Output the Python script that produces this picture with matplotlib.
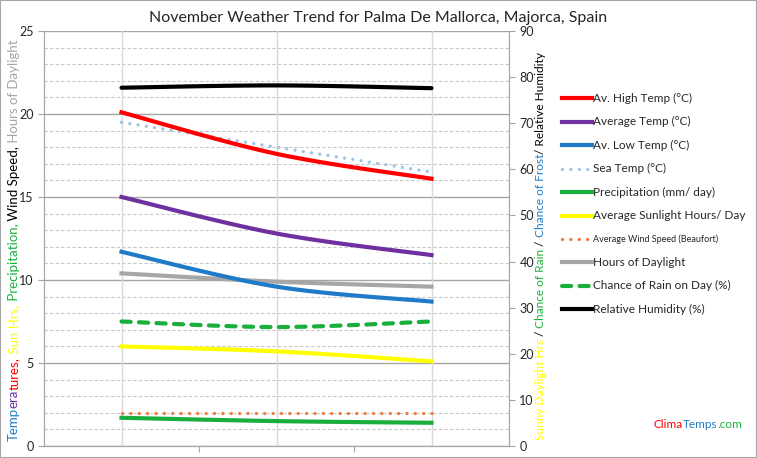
import matplotlib
matplotlib.use('Agg')
import matplotlib.pyplot as plt
from matplotlib.lines import Line2D
from matplotlib.transforms import IdentityTransform
import numpy as np

plt.rcParams['font.family'] = ['Lato', 'DejaVu Sans']

# ---- data ----
periods = ['Early', 'Mid', 'Late']
high_temp = [20.1, 17.6, 16.1]
avg_temp = [15.0, 12.8, 11.5]
low_temp = [11.7, 9.6, 8.7]
sea_temp = [19.5, 18.0, 16.5]
precip = [1.7, 1.5, 1.4]
sun_hours = [6.0, 5.7, 5.1]
wind_speed = [2.0, 2.0, 2.0]
daylight = [10.4, 9.9, 9.6]
rain_chance = [27.0, 25.8, 27.0]      # right axis
humidity = [77.7, 78.2, 77.6]         # right axis

TITLE = 'November Weather Trend for Palma De Mallorca, Majorca, Spain'

W, H = 757, 458
DOTS = (0, (0.01, 2.5))
DASH = (0, (2.2, 2.0))


def smooth(ys, n=60):
    # excel-style smoothed line (cardinal bezier through the points)
    xs = np.arange(len(ys), dtype=float)
    pts = np.column_stack([xs, np.asarray(ys, dtype=float)])
    ext = np.vstack([pts[0], pts, pts[-1]])
    out = []
    for i in range(len(pts) - 1):
        p0, p1, p2, p3 = ext[i], ext[i + 1], ext[i + 2], ext[i + 3]
        c1 = p1 + (p2 - p0) / 6.0
        c2 = p2 - (p3 - p1) / 6.0
        t = np.linspace(0, 1, n)[:, None]
        seg = ((1 - t) ** 3) * p1 + 3 * ((1 - t) ** 2) * t * c1 + 3 * (1 - t) * t ** 2 * c2 + t ** 3 * p2
        out.append(seg if i == 0 else seg[1:])
    out = np.vstack(out)
    return out[:, 0], out[:, 1]


fig = plt.figure(figsize=(W / 100, H / 100), dpi=100)
ax = fig.add_axes([44 / W, 1 - 446 / H, (509 - 44) / W, (446 - 31) / H])
ax2 = ax.twinx()

ax.set_xlim(-0.5, 2.5)
ax.set_ylim(0, 25)
ax2.set_ylim(0, 90)

# grid
for v in range(0, 26):
    if v % 5 == 0:
        ax.axhline(v, color='#a6a6a6', lw=1.0, zorder=0)
    else:
        ax.axhline(v, color='#c8c8c8', lw=0.8, ls=(0, (3, 2)), zorder=0)
for i in range(len(periods)):
    ax.axvline(i, color='#d9d9d9', lw=1.0, zorder=0)

ax.set_yticks(range(0, 26, 5))
ax2.set_yticks(range(0, 91, 10))
ax.set_xticks([0.5, 1.5])
ax.set_xticklabels([])
for a in (ax, ax2):
    for s in a.spines.values():
        s.set_color('#a6a6a6')
    a.spines['top'].set_visible(False)
    a.tick_params(colors='#a6a6a6', labelcolor='#262626', labelsize=9, length=4)
    a.patch.set_visible(False)

lw = 3.0
x, y = smooth(humidity)
ax2.plot(x, y, color='black', lw=lw, solid_capstyle='round')
x, y = smooth(rain_chance)
ax2.plot(x, y, color='#1aaf3c', lw=lw, ls=DASH, dash_capstyle='round')
x, y = smooth(daylight)
ax.plot(x, y, color='#a6a6a6', lw=lw)
x, y = smooth(sun_hours)
ax.plot(x, y, color='#ffff00', lw=lw)
x, y = smooth(precip)
ax.plot(x, y, color='#1aaf3c', lw=lw)
x, y = smooth(wind_speed)
ax.plot(x, y, color='#f07b3f', lw=2.4, ls=DOTS, dash_capstyle='round')
x, y = smooth(low_temp)
ax.plot(x, y, color='#1f7bc8', lw=lw)
x, y = smooth(avg_temp)
ax.plot(x, y, color='#7030a0', lw=lw)
x, y = smooth(sea_temp)
ax.plot(x, y, color='#9dc3e6', lw=2.4, ls=DOTS, dash_capstyle='round')
x, y = smooth(high_temp)
ax.plot(x, y, color='#ff0000', lw=lw)

# title
fig.text(378 / W, 1 - 18 / H, TITLE, ha='center', va='center', fontsize=11.5, color='#262626')

# multi-colour rotated axis labels
fig.canvas.draw()
r = fig.canvas.get_renderer()


def vertical_label(xpx, ycpx, parts, size):
    arts = []
    for s, c in parts:
        t = fig.text(xpx, 0, s, color=c, fontsize=size, rotation=90, ha='center', va='bottom',
                     transform=IdentityTransform())
        arts.append(t)
    hs = [t.get_window_extent(r).height for t in arts]
    y0 = (H - ycpx) - sum(hs) / 2
    for t, h in zip(arts, hs):
        t.set_y(y0)
        y0 += h


vertical_label(14, 240, [('Temp', '#1f7bc8'), ('era', '#7030a0'), ('tures,', '#ff0000'),
                         (' Sun Hrs,', '#ffff00'), (' Precipitation,', '#1aaf3c'),
                         (' Wind Speed,', 'black'), (' Hours of Daylight', '#a6a6a6')], 9.5)
vertical_label(541, 246, [('Sunny Daylight Hrs', '#ffff00'), (' / ', 'black'),
                          ('Chance of Rain', '#1aaf3c'), (' / ', 'black'),
                          ('Chance of Frost', '#1f7bc8'), ('/ Relative Humidity', 'black')], 8.6)

# legend
legend_items = [
    ('Av. High Temp (°C)', '#ff0000', '-', 3.0, 8.5),
    ('Average Temp (°C)', '#7030a0', '-', 3.0, 8.5),
    ('Av. Low Temp (°C)', '#1f7bc8', '-', 3.0, 8.5),
    ('Sea Temp (°C)', '#9dc3e6', 'dot', 2.4, 8.5),
    ('Precipitation (mm/ day)', '#1aaf3c', '-', 3.0, 8.5),
    ('Average Sunlight Hours/ Day', '#ffff00', '-', 3.0, 8.5),
    ('Average Wind Speed (Beaufort)', '#f07b3f', 'dot', 2.4, 6.5),
    ('Hours of Daylight', '#a6a6a6', '-', 3.0, 8.5),
    ('Chance of Rain on Day (%)', '#1aaf3c', 'dash', 3.0, 8.5),
    ('Relative Humidity (%)', 'black', '-', 3.0, 8.5),
]
for i, (lab, c, st, w, fs) in enumerate(legend_items):
    yy = 1 - (98.3 + i * 23.45) / H
    kw = {}
    if st == 'dot':
        kw = dict(ls=DOTS, dash_capstyle='round')
    elif st == 'dash':
        kw = dict(ls=DASH, dash_capstyle='round')
    fig.add_artist(Line2D([562 / W, 592 / W], [yy, yy], color=c, lw=w, **kw))
    fig.text(593 / W, yy, lab, fontsize=fs, va='center', ha='left', color='#262626')

# watermark
xw = 654
for s, c in [('Clima', '#ff0000'), ('Temps', '#1f7bc8'), ('.com', '#1aaf3c')]:
    t = fig.text(xw, H - 425, s, color=c, fontsize=8.5, va='center', ha='left',
                 transform=IdentityTransform())
    xw += t.get_window_extent(r).width

# outer border
fig.add_artist(Line2D([0, 1, 1, 0, 0], [0, 0, 1, 1, 0], color='#a6a6a6', lw=1.5,
                      transform=fig.transFigure))

fig.savefig('out.png', dpi=100)
